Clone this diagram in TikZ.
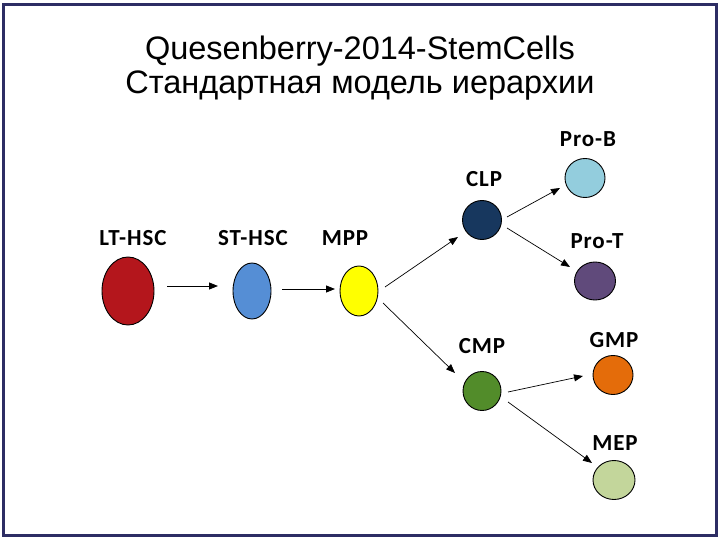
\documentclass[tikz,border=0pt]{standalone}
\usepackage{fontspec}
\setmainfont{Liberation Sans}
\newfontfamily\lblfont[LetterSpace=4]{Carlito}
\usetikzlibrary{shapes.geometric,arrows.meta,calc}
\definecolor{framec}{RGB}{45,45,100}
\definecolor{ltc}{RGB}{180,22,28}
\definecolor{stc}{RGB}{85,142,213}
\definecolor{mppc}{RGB}{255,255,0}
\definecolor{clpc}{RGB}{23,55,94}
\definecolor{probc}{RGB}{147,205,221}
\definecolor{protc}{RGB}{96,74,123}
\definecolor{cmpc}{RGB}{82,140,42}
\definecolor{gmpc}{RGB}{228,108,10}
\definecolor{mepc}{RGB}{195,214,155}
\tikzset{
  cell/.style={ellipse, draw=black, line width=0.9pt, inner sep=0pt},
  lbl/.style={anchor=base, inner sep=0pt, font=\lblfont\bfseries\fontsize{23}{25}\selectfont},
  arr/.style={-{Triangle[length=9pt,width=7pt]}, line width=0.9pt},
  darr/.style={-{Triangle[length=9pt,width=7pt]}, line width=0.7pt},
  ttl/.style={anchor=base, inner sep=0pt, font=\fontsize{32.5}{35}\selectfont}
}
\begin{document}
\begin{tikzpicture}[x=1pt,y=-1pt]
\useasboundingbox (0,0) rectangle (720,540);
\fill[white] (0,0) rectangle (720,540);
\draw[framec, line width=3pt] (3.5,5) rectangle (716.5,535.5);
% title
\node[ttl] (t1) at (360,60) {Quesenberry-2014-StemCells};
\node[ttl] (t2) at (360,94) {Стандартная модель иерархии};
% cells
\node[cell, fill=ltc, minimum width=52, minimum height=68] (lt) at (128,291) {};
\node[cell, fill=stc, minimum width=38, minimum height=56] (st) at (252,291) {};
\node[cell, fill=mppc, minimum width=38, minimum height=50] (mpp) at (359,291) {};
\node[cell, fill=clpc, minimum width=39, minimum height=39] (clp) at (482,220) {};
\node[cell, fill=probc, minimum width=40, minimum height=39] (prob) at (585,178) {};
\node[cell, fill=protc, minimum width=41, minimum height=38] (prot) at (595,281) {};
\node[cell, fill=cmpc, minimum width=38, minimum height=39] (cmp) at (482,391) {};
\node[cell, fill=gmpc, minimum width=40, minimum height=39] (gmp) at (613,375) {};
\node[cell, fill=mepc, minimum width=42, minimum height=39] (mep) at (614,480) {};
% labels
\node[lbl] (llt) at (133,245) {LT-HSC};
\node[lbl] (lst) at (253,245) {ST-HSC};
\node[lbl] (lmpp) at (345,245) {MPP};
\node[lbl] (lclp) at (484,187) {CLP};
\node[lbl] (lprob) at (588,147) {Pro-B};
\node[lbl] (lprot) at (597,248) {Pro-T};
\node[lbl] (lcmp) at (482,353) {CMP};
\node[lbl] (lgmp) at (614,347) {GMP};
\node[lbl] (lmep) at (615,450) {MEP};
% connectors
\draw[arr] ($(lt)+(39,-5)$) -- ($(st)+(-34,-5)$);
\draw[arr] ($(st)+(30,-2)$) -- ($(mpp)+(-24,-2)$);
\draw[darr] ($(mpp)+(26,-4)$) -- ($(clp)+(-24,17)$);
\draw[darr] ($(mpp)+(24,12)$) -- ($(cmp)+(-27,-18)$);
\draw[darr] ($(clp)+(25,-3)$) -- ($(prob)+(-25,10)$);
\draw[darr] ($(clp)+(25,8)$) -- ($(prot)+(-25,-14)$);
\draw[darr] ($(cmp)+(26,1)$) -- ($(gmp)+(-30,1)$);
\draw[darr] ($(cmp)+(26,11)$) -- ($(mep)+(-22,-17)$);
\end{tikzpicture}
\end{document}
